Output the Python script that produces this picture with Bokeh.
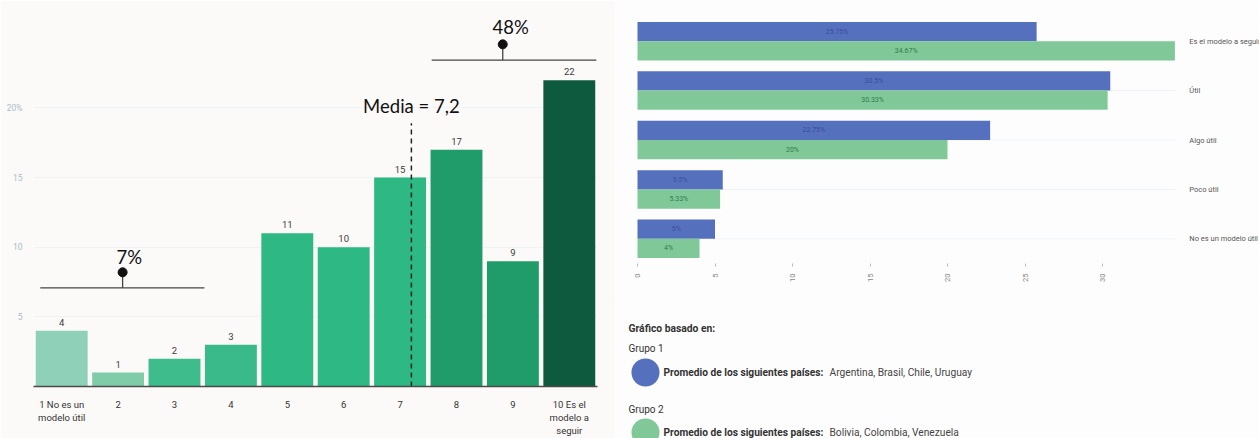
from bokeh.plotting import figure
from bokeh.models import ColumnDataSource, Range1d, FixedTicker
from bokeh.layouts import row, column
from bokeh.core.properties import value
from bokeh.embed import file_html
from bokeh.resources import INLINE

# ---------------- data ----------------
scores = [1, 2, 3, 4, 5, 6, 7, 8, 9, 10]
score_labels = ["1 No es un\nmodelo útil", "2", "3", "4", "5", "6", "7", "8", "9", "10 Es el\nmodelo a\nseguir"]
counts = [4, 1, 2, 3, 11, 10, 15, 17, 9, 22]
bar_colors = ["#8fd0b8", "#80cca8", "#3ebc8c", "#3aba8a", "#2db884", "#2db884", "#2db884",
              "#1f9c69", "#1f9c69", "#0e5a3e"]
mean_value = 7.2
mean_label = "Media = 7,2"
low_share = "7%"
high_share = "48%"
y_ticks_left = [5, 10, 15, 20]

categories = ["Es el modelo a seguir", "Útil", "Algo útil", "Poco útil", "No es un modelo útil"]
grupo1 = [25.75, 30.5, 22.75, 5.5, 5]
grupo2 = [34.67, 30.33, 20, 5.33, 4]
grupo1_labels = ["25.75%", "30.5%", "22.75%", "5.5%", "5%"]
grupo2_labels = ["34.67%", "30.33%", "20%", "5.33%", "4%"]
x_ticks_right = [0, 5, 10, 15, 20, 25, 30]

FONT = "Roboto"
BIG = "Lato"

# ---------------- left chart ----------------
left_bg = "#fcfaf9"
pl = figure(width=615, height=438, output_backend="svg", toolbar_location=None,
            x_range=Range1d(0.5, 10.5), y_range=Range1d(0, 27),
            min_border_left=33, min_border_right=18, min_border_top=10, min_border_bottom=50,
            background_fill_color=left_bg, border_fill_color=left_bg)
pl.outline_line_color = None
pl.xgrid.grid_line_color = None
pl.ygrid.grid_line_color = "#edf3f7"
pl.ygrid.ticker = FixedTicker(ticks=y_ticks_left)

src = ColumnDataSource(dict(x=scores, top=counts, color=bar_colors,
                            lab=[str(c) for c in counts]))
pl.vbar(x="x", top="top", width=0.92, color="color", source=src, line_color=None)
pl.text(x="x", y="top", text="lab", source=src, text_align="center", text_baseline="bottom",
        y_offset=-5, text_font=value(FONT), text_font_size="9.5px", text_color="#3a3a3a")

pl.xaxis.ticker = FixedTicker(ticks=scores)
pl.xaxis.major_label_overrides = {s: l for s, l in zip(scores, score_labels)}
pl.xaxis.major_tick_line_color = None
pl.xaxis.minor_tick_line_color = None
pl.xaxis.axis_line_color = "#4a4a4a"
pl.xaxis.axis_line_width = 1.5
pl.xaxis.major_label_text_font = FONT
pl.xaxis.major_label_text_font_size = "9.5px"
pl.xaxis.major_label_text_color = "#333333"
pl.xaxis.major_label_standoff = 6

pl.yaxis.ticker = FixedTicker(ticks=y_ticks_left)
pl.yaxis.major_label_overrides = {20: "20%"}
pl.yaxis.axis_line_color = None
pl.yaxis.major_tick_line_color = None
pl.yaxis.minor_tick_line_color = None
pl.yaxis.major_label_text_font = FONT
pl.yaxis.major_label_text_font_size = "8.5px"
pl.yaxis.major_label_text_color = "#a9bcc8"
pl.yaxis.major_label_standoff = 5

# mean line
pl.segment(x0=[mean_value], y0=[0], x1=[mean_value], y1=[18.9], line_color="#222222",
           line_width=1.5, line_dash="5 4")
pl.text(x=[mean_value], y=[20.15], text=[mean_label], text_align="center",
        text_baseline="middle", text_font=value(BIG), text_font_size="18.5px", text_color="#111111")

# bracket 7%
pl.segment(x0=[0.62], y0=[7.08], x1=[3.53], y1=[7.08], line_color="#444444", line_width=1.3)
pl.segment(x0=[2.08], y0=[7.08], x1=[2.08], y1=[8.2], line_color="#444444", line_width=1.3)
pl.scatter(x=[2.08], y=[8.2], size=9, color="#111111")
pl.text(x=[2.2], y=[9.3], text=[low_share], text_align="center", text_baseline="middle",
        text_font=value(BIG), text_font_size="18.5px", text_color="#111111")

# bracket 48%
pl.segment(x0=[7.56], y0=[23.43], x1=[10.48], y1=[23.43], line_color="#444444", line_width=1.3)
pl.segment(x0=[8.82], y0=[23.43], x1=[8.82], y1=[24.57], line_color="#444444", line_width=1.3)
pl.scatter(x=[8.82], y=[24.57], size=9, color="#111111")
pl.text(x=[8.96], y=[25.8], text=[high_share], text_align="center", text_baseline="middle",
        text_font=value(BIG), text_font_size="18.5px", text_color="#111111")

# ---------------- right chart ----------------
right_bg = "#fdfdfd"
blue = "#5571bd"
green = "#80c897"
n = len(categories)
idx = list(range(n))
px_per_unit = 15.5
x_start = -22 / px_per_unit
x_end = x_start + 644 / px_per_unit
grid_end = 34.7
label_x = 35.6

pr = figure(width=644, height=300, output_backend="svg", toolbar_location=None,
            x_range=Range1d(x_start, x_end), y_range=Range1d(n - 0.5, -0.5),
            min_border_left=0, min_border_right=0, min_border_top=16, min_border_bottom=37,
            background_fill_color=right_bg, border_fill_color=right_bg)
pr.outline_line_color = None
pr.grid.grid_line_color = None
pr.yaxis.visible = False

# horizontal guide lines at each category
pr.segment(x0=[0] * n, y0=idx, x1=[grid_end] * n, y1=idx, line_color="#eef2f8", line_width=1)

h = 0.39
src_b = ColumnDataSource(dict(y=[i - h / 2 for i in idx], v=grupo1, lab=grupo1_labels,
                              xm=[v / 2 for v in grupo1]))
src_g = ColumnDataSource(dict(y=[i + h / 2 for i in idx], v=grupo2, lab=grupo2_labels,
                              xm=[v / 2 for v in grupo2]))
pr.hbar(y="y", right="v", left=0, height=h, color=blue, line_color=None, source=src_b)
pr.hbar(y="y", right="v", left=0, height=h, color=green, line_color=None, source=src_g)
pr.text(x="xm", y="y", text="lab", source=src_b, text_align="center", text_baseline="middle",
        text_font=value(FONT), text_font_size="7px", text_color="#3a4c9e")
pr.text(x="xm", y="y", text="lab", source=src_g, text_align="center", text_baseline="middle",
        text_font=value(FONT), text_font_size="7px", text_color="#2f7d4e")

# category labels at right
pr.text(x=[label_x] * n, y=idx, text=categories, text_align="left", text_baseline="middle",
        text_font=value(FONT), text_font_size="7.5px", text_color="#555555")

pr.xaxis.ticker = FixedTicker(ticks=x_ticks_right)
pr.xaxis.axis_line_color = None
pr.xaxis.major_tick_line_color = "#bbbbbb"
pr.xaxis.major_tick_in = 0
pr.xaxis.major_tick_out = 3
pr.xaxis.minor_tick_line_color = None
pr.xaxis.major_label_orientation = 1.5708
pr.xaxis.major_label_text_font = FONT
pr.xaxis.major_label_text_font_size = "7.5px"
pr.xaxis.major_label_text_color = "#888888"
pr.xaxis.major_label_standoff = 7

# ---------------- legend panel ----------------
lg = figure(width=644, height=138, output_backend="svg", toolbar_location=None,
            x_range=Range1d(0, 644), y_range=Range1d(138, 0),
            min_border=0, background_fill_color=right_bg, border_fill_color=right_bg)
lg.axis.visible = False
lg.grid.grid_line_color = None
lg.outline_line_color = None
lg.text(x=[13], y=[28], text=["Gráfico basado en:"], text_baseline="middle",
        text_font=value(FONT), text_font_size="10.3px", text_font_style="bold", text_color="#333333")
lg.text(x=[13, 13], y=[48, 109], text=["Grupo 1", "Grupo 2"], text_baseline="middle",
        text_font=value(FONT), text_font_size="10px", text_color="#333333")
lg.scatter(x=[30, 30], y=[72, 132], size=28, color=[blue, green], line_color=None)
lg.text(x=[48, 48], y=[72, 132], text=["Promedio de los siguientes países:"] * 2,
        text_baseline="middle", text_font=value(FONT), text_font_size="10.2px",
        text_font_style="bold", text_color="#333333")
lg.text(x=[214, 214], y=[72, 132],
        text=["Argentina, Brasil, Chile, Uruguay", "Bolivia, Colombia, Venezuela"],
        text_baseline="middle", text_font=value(FONT), text_font_size="10.2px", text_color="#444444")

layout = row(pl, column(pr, lg, spacing=0), spacing=0)
html = file_html(layout, INLINE)
html = html.replace("<body>", '<body style="margin:0;padding:0;">')
open("out.html", "w").write(html)
